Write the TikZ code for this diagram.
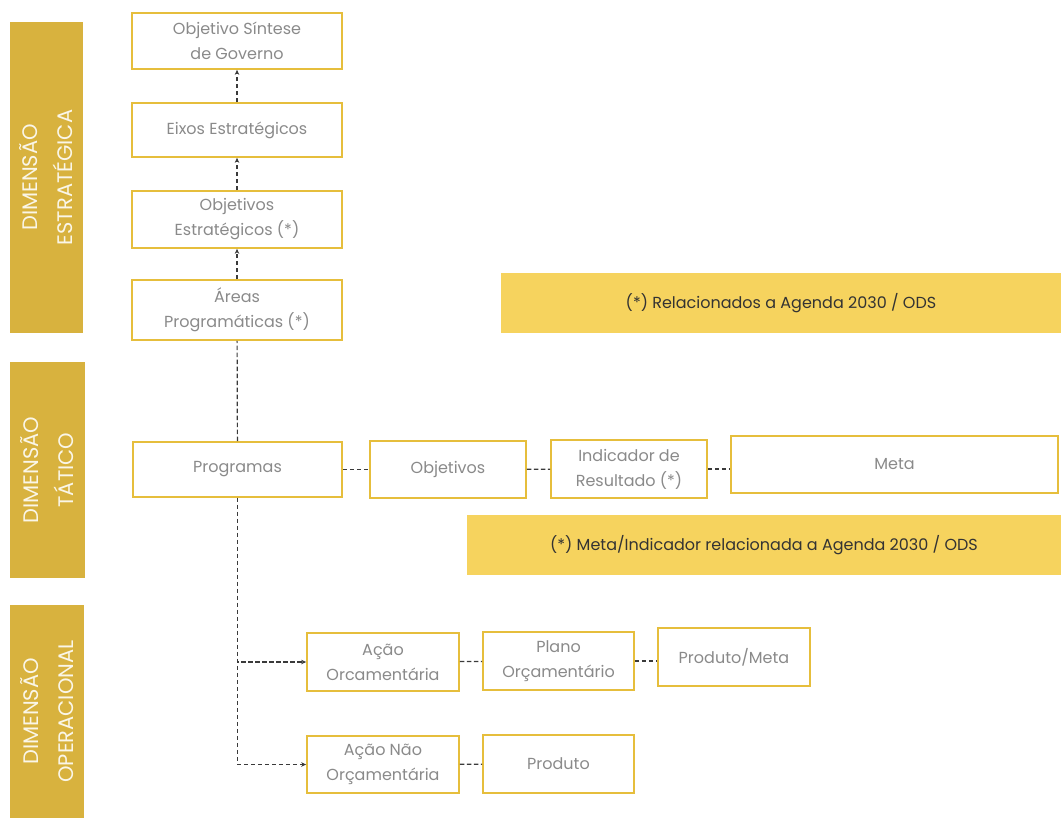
\documentclass[tikz,border=0pt]{standalone}
\usepackage{fontspec}
\setmainfont{Poppins}
\usepackage{tikz}
\usetikzlibrary{arrows.meta}

\definecolor{ouro}{HTML}{E6BE3C}
\definecolor{faixa}{HTML}{D8B23E}
\definecolor{nota}{HTML}{F6D35E}
\definecolor{texto}{HTML}{8A8A8A}
\definecolor{linha}{HTML}{3A3A3A}

\begin{document}
\begin{tikzpicture}[x=1pt,y=-1pt,
	caixa/.style={draw=ouro, line width=1.7pt, fill=white, text=texto, align=center,
		font=\fontsize{16}{25}\selectfont, inner sep=0pt},
	dimensao/.style={fill=faixa, rotate=90, text=white!88!faixa, align=center,
		font=\fontsize{21}{35}\selectfont, inner sep=0pt},
	aviso/.style={fill=nota, text=black!80, font=\fontsize{16}{19}\selectfont, inner sep=0pt},
	traco/.style={linha, line width=1.2pt, dash pattern=on 4.5pt off 2.5pt},
	seta/.style={traco, -{Stealth[length=5pt,width=4.5pt]}}]
\useasboundingbox (0,0) rectangle (1061,818);

% faixas laterais
\node [dimensao, minimum width=311pt, minimum height=73pt] (est) at (46.5,177.5) {DIMENSÃO\\ESTRATÉGICA};
\node [dimensao, minimum width=216pt, minimum height=75pt] (tat) at (47.5,470) {DIMENSÃO\\TÁTICO};
\node [dimensao, minimum width=213pt, minimum height=74pt] (ope) at (47,711.5) {DIMENSÃO\\OPERACIONAL};

% dimensao estrategica
\node [caixa, minimum width=210pt, minimum height=56pt] (sintese) at (237,41) {Objetivo Síntese\\de Governo};
\node [caixa, minimum width=210pt, minimum height=54pt] (eixos) at (237,130) {Eixos Estratégicos};
\node [caixa, minimum width=210pt, minimum height=57pt] (objest) at (237,219.5) {Objetivos\\Estratégicos (*)};
\node [caixa, minimum width=210pt, minimum height=60pt] (areas) at (237,310) {Áreas\\Programáticas (*)};
\node [aviso, minimum width=560pt, minimum height=60pt] (nota1) at (781,303) {(*) Relacionados a Agenda 2030 / ODS};

% dimensao tatico
\node [caixa, minimum width=209pt, minimum height=55pt] (programas) at (237.5,469.5) {Programas};
\node [caixa, minimum width=156pt, minimum height=57pt] (objetivos) at (448,469.5) {Objetivos};
\node [caixa, minimum width=156pt, minimum height=58pt] (indicador) at (629,469) {Indicador de\\Resultado (*)};
\node [caixa, minimum width=327pt, minimum height=57pt] (meta) at (894.5,464.5) {Meta};
\node [aviso, minimum width=594pt, minimum height=60pt] (nota2) at (764,545) {(*) Meta/Indicador relacionada a Agenda 2030 / ODS};

% dimensao operacional
\node [caixa, minimum width=152pt, minimum height=58pt] (acao) at (383,662) {Ação\\Orcamentária};
\node [caixa, minimum width=151pt, minimum height=58pt] (plano) at (558.5,661) {Plano\\Orçamentário};
\node [caixa, minimum width=152pt, minimum height=58pt] (prodmeta) at (734,657) {Produto/Meta};
\node [caixa, minimum width=152pt, minimum height=57pt] (acaonao) at (383,764.5) {Ação Não\\Orçamentária};
\node [caixa, minimum width=151pt, minimum height=58pt] (produto) at (558.5,764) {Produto};

% ligacoes
\draw [seta] (eixos) -- (sintese);
\draw [seta] (objest) -- (eixos);
\draw [seta] (areas) -- (objest);
\draw [traco] (programas) -- (areas);
\draw [traco] (programas) -- (objetivos);
\draw [traco] (objetivos) -- (indicador);
\draw [traco] (indicador.east) -- (meta.west |- indicador.east);
\draw [seta] (programas.south) |- (acao.west);
\draw [seta] (programas.south) |- (acaonao.west);
\draw [traco] (acao) -- (plano);
\draw [traco] (plano.east) -- (prodmeta.west |- plano.east);
\draw [traco] (acaonao) -- (produto);
\end{tikzpicture}
\end{document}
